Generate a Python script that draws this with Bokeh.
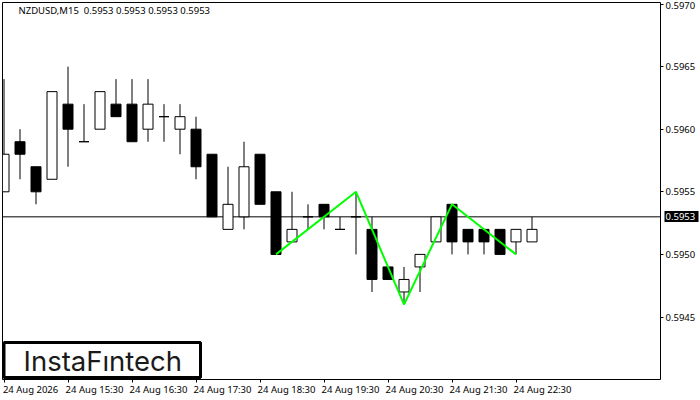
# NZDUSD M15 candles with the green double-top / M pattern on top

from bokeh.plotting import figure
from bokeh.embed import file_html
from bokeh.resources import INLINE
from bokeh.models import FixedTicker, Label, BoxAnnotation, Span, Range1d, PrintfTickFormatter, LinearAxis

# one candle per entry, 15 minutes apart
opens = [0.5955, 0.5959, 0.5957, 0.5956, 0.5962, 0.5959, 0.5960, 0.5962, 0.5962, 0.5960, 0.5961, 0.5960,
         0.5960, 0.5958, 0.5952, 0.5953, 0.5958, 0.5955, 0.5951, 0.5953, 0.5954, 0.5952, 0.5953, 0.5952,
         0.5949, 0.5947, 0.5949, 0.5951, 0.5954, 0.5952, 0.5952, 0.5952, 0.5951, 0.5951]
closes = [0.5958, 0.5958, 0.5955, 0.5963, 0.5960, 0.5959, 0.5963, 0.5961, 0.5959, 0.5962, 0.5961, 0.5961,
          0.5957, 0.5953, 0.5954, 0.5957, 0.5954, 0.5950, 0.5952, 0.5953, 0.5953, 0.5952, 0.5953, 0.5948,
          0.5948, 0.5948, 0.5950, 0.5953, 0.5951, 0.5951, 0.5951, 0.5950, 0.5952, 0.5952]
highs = [0.5964, 0.5960, 0.5957, 0.5963, 0.5965, 0.5962, 0.5963, 0.5964, 0.5964, 0.5964, 0.5962, 0.5962,
         0.5961, 0.5958, 0.5957, 0.5959, 0.5958, 0.5955, 0.5955, 0.5954, 0.5954, 0.5953, 0.5955, 0.5953,
         0.5949, 0.5949, 0.5950, 0.5953, 0.5954, 0.5952, 0.5952, 0.5952, 0.5952, 0.5953]
lows = [0.5955, 0.5956, 0.5954, 0.5956, 0.5957, 0.5959, 0.5960, 0.5961, 0.5959, 0.5959, 0.5959, 0.5958,
        0.5956, 0.5953, 0.5952, 0.5952, 0.5954, 0.5950, 0.5951, 0.5952, 0.5952, 0.5952, 0.5950, 0.5947,
        0.5948, 0.5946, 0.5947, 0.5951, 0.5950, 0.5950, 0.5950, 0.5950, 0.5950, 0.5951]

# pattern line
pattern_x = [17, 22, 25, 28, 32]
pattern_y = [0.5950, 0.5955, 0.5946, 0.5954, 0.5950]

last_price = 0.5953
price_ticks = [0.5945, 0.5950, 0.5955, 0.5960, 0.5965, 0.5970]
time_ticks = [0, 4, 8, 12, 16, 20, 24, 28, 32]
time_labels = ["24 Aug 2026", "24 Aug 15:30", "24 Aug 16:30", "24 Aug 17:30", "24 Aug 18:30",
               "24 Aug 19:30", "24 Aug 20:30", "24 Aug 21:30", "24 Aug 22:30"]

bar_px = 16.0
pip_px = 12.52
font = "Noto Sans"
font_size = "9.5px"

x_start = -1.5 / bar_px
y_top = 0.5970 + 1.5 / pip_px * 0.0001


def y_at(px):
    # price at a pixel row of the picture
    return y_top - (px - 2) / pip_px * 0.0001


p = figure(width=700, height=400, output_backend="svg", toolbar_location=None,
           x_range=Range1d(x_start, x_start + 658 / bar_px),
           y_range=Range1d(y_top - 377 / pip_px * 0.0001, y_top),
           y_axis_location="right", min_border_left=2, min_border_right=40,
           min_border_top=2, min_border_bottom=21)
p.grid.visible = False
p.outline_line_color = "black"
p.outline_line_width = 1
p.background_fill_color = "white"
p.border_fill_color = "white"

# price axis, top label is moved down by its own axis below
p.yaxis.ticker = FixedTicker(ticks=price_ticks)
p.yaxis.formatter = PrintfTickFormatter(format="%.4f")
p.yaxis.major_label_overrides = {0.5970: " "}
p.yaxis.major_tick_in = 0
p.yaxis.major_tick_out = 3
p.yaxis.minor_tick_line_color = None
p.yaxis.axis_line_color = None
p.yaxis.major_label_standoff = 2
p.yaxis.major_label_text_font = font
p.yaxis.major_label_text_font_size = font_size
p.yaxis.major_label_text_color = "black"

# black box with the current price: a fat tick pointing back at the frame
box_axis = LinearAxis(ticker=FixedTicker(ticks=[last_price]), formatter=PrintfTickFormatter(format="%.4f"),
                      major_tick_in=34, major_tick_out=0, major_tick_line_width=11, major_tick_line_color="black",
                      minor_tick_line_color=None, axis_line_color=None, major_label_standoff=-33,
                      major_label_text_color="white", major_label_text_font=font, major_label_text_font_size=font_size)
p.add_layout(box_axis, "right")

top_axis = LinearAxis(ticker=FixedTicker(ticks=[y_at(5)]), major_label_overrides={y_at(5): "0.5970"},
                      major_tick_in=0, major_tick_out=0, major_tick_line_color=None, minor_tick_line_color=None,
                      axis_line_color=None, major_label_standoff=-33, major_label_text_color="black",
                      major_label_text_font=font, major_label_text_font_size=font_size)
p.add_layout(top_axis, "right")

# tick marks only
p.xaxis.ticker = FixedTicker(ticks=time_ticks)
p.xaxis.major_label_overrides = {t: " " for t in time_ticks}
p.xaxis.major_label_standoff = 0
p.xaxis.major_label_text_font_size = "1px"
p.xaxis.major_tick_in = 0
p.xaxis.major_tick_out = 3
p.xaxis.minor_tick_line_color = None
p.xaxis.axis_line_color = None

# the time labels start at their tick, so their axis has its ticks half a label further on
label_ticks = [t + 1.66 for t in time_ticks]
time_axis = LinearAxis(ticker=FixedTicker(ticks=label_ticks), major_label_overrides=dict(zip(label_ticks, time_labels)),
                       major_tick_in=0, major_tick_out=0, major_tick_line_color=None, minor_tick_line_color=None,
                       axis_line_color=None, major_label_standoff=-4, major_label_text_color="black",
                       major_label_text_font=font, major_label_text_font_size=font_size)
p.add_layout(time_axis, "below")

# current price line goes under the candles
p.add_layout(Span(location=last_price, dimension="width", line_color="black", line_width=1, level="underlay"))

xs = list(range(len(opens)))
p.segment(xs, highs, xs, lows, color="black", line_width=1)

up = [i for i in xs if closes[i] >= opens[i]]
down = [i for i in xs if closes[i] < opens[i]]
p.vbar([i for i in up], 0.625, [opens[i] for i in up], [closes[i] for i in up],
       fill_color="white", line_color="black", line_width=1)
p.vbar([i for i in down], 0.625, [closes[i] for i in down], [opens[i] for i in down],
       fill_color="black", line_color="black", line_width=1)

p.line(pattern_x, pattern_y, color="#00ff00", line_width=2)

p.add_layout(Label(x=16, x_units="screen", y=y_at(10), text="NZDUSD,M15\u00a0\u00a00.5953 0.5953 0.5953 0.5953",
                   text_font=font, text_font_size=font_size, text_color="black", text_baseline="middle",
                   level="overlay"))

# logo in the bottom left corner
p.add_layout(BoxAnnotation(left=1.5, right=198, left_units="screen", right_units="screen",
                           bottom=y_at(377), top=y_at(342), fill_color="white", fill_alpha=1,
                           line_color="black", line_alpha=1, line_width=3, level="overlay"))
p.add_layout(Label(x=21, x_units="screen", y=y_at(360), text="InstaF\u0131ntech", text_font="Inter",
                   text_font_size="27.5px", text_color="#1a1a1a", text_baseline="middle", level="overlay"))

open("out.html", "w").write(file_html(p, INLINE))
